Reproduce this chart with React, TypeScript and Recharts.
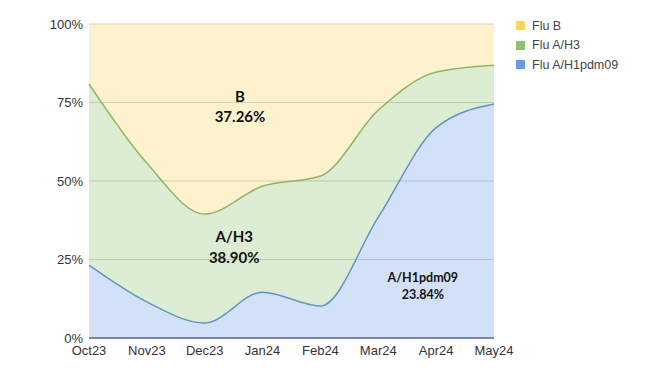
import React from "react";
import { AreaChart, Area, XAxis, YAxis, CartesianGrid, ReferenceDot } from "recharts";

const months = ["Oct23", "Nov23", "Dec23", "Jan24", "Feb24", "Mar24", "Apr24", "May24"];
const fluH1 = [23.2, 11.5, 4.8, 14.6, 10.2, 38.5, 67.0, 74.5];
const fluH3 = [57.7, 44.2, 34.7, 33.8, 41.4, 34.1, 17.7, 12.4];
const fluB = [19.1, 44.3, 60.5, 51.6, 48.4, 27.4, 15.3, 13.1];
const yTicks = [0, 25, 50, 75, 100];

const data = months.map((m, i) => ({ idx: i, month: m, h1: fluH1[i], h3: fluH3[i], b: fluB[i] }));

const legendItems = [
  { name: "Flu B", color: "#fbd45c" },
  { name: "Flu A/H3", color: "#8cc26e" },
  { name: "Flu A/H1pdm09", color: "#6a9be8" },
];

const annotations = [
  { x: 2.61, y: 73.6, lines: ["B", "37.26%"], size: 15 },
  { x: 2.51, y: 28.9, lines: ["A/H3", "38.90%"], size: 15 },
  { x: 5.77, y: 16.6, lines: ["A/H1pdm09", "23.84%"], size: 12.5 },
];

const makeLabel = (lines: string[], size: number) => (props: any) => {
  const { cx, cy } = props;
  const gap = size * 1.35;
  return (
    <text
      x={cx}
      y={cy}
      textAnchor="middle"
      fontFamily="Lato, 'Open Sans', sans-serif"
      fontWeight="bold"
      fontSize={size}
      fill="#111"
    >
      <tspan x={cx} dy={-gap / 2 + size * 0.35}>{lines[0]}</tspan>
      <tspan x={cx} dy={gap}>{lines[1]}</tspan>
    </text>
  );
};

export default function App() {
  return (
    <div style={{ position: "relative", width: 663, height: 370 }}>
      <AreaChart
        width={663}
        height={370}
        data={data}
        margin={{ top: 16, right: 177, bottom: 10, left: 0 }}
      >
        <CartesianGrid horizontal vertical={false} stroke="#cfcfcf" />
        <XAxis
          dataKey="idx"
          type="number"
          domain={[0, 7]}
          ticks={[0, 1, 2, 3, 4, 5, 6, 7]}
          tickFormatter={(v: number) => months[v]}
          height={30}
          tickSize={0}
          tickMargin={8}
          axisLine={{ stroke: "#5f6f8c", strokeWidth: 1.3 }}
          tick={{ fontFamily: "'Liberation Sans', Arial, sans-serif", fontSize: 13, fill: "#333" }}
          interval={0}
        />
        <YAxis
          width={81}
          domain={[0, 100]}
          ticks={yTicks}
          tickFormatter={(v: number) => `${v}%`}
          axisLine={false}
          tickLine={false}
          tickSize={0}
          tickMargin={6}
          tick={{ fontFamily: "'Liberation Sans', Arial, sans-serif", fontSize: 13, fill: "#333" }}
          allowDataOverflow
        />
        <Area
          type="monotone"
          dataKey="h1"
          name="Flu A/H1pdm09"
          stackId="1"
          stroke="#5b8bd6"
          strokeWidth={1.5}
          fill="#6a9be8"
          fillOpacity={0.3}
          isAnimationActive={false}
        />
        <Area
          type="monotone"
          dataKey="h3"
          name="Flu A/H3"
          stackId="1"
          stroke="#7fb062"
          strokeWidth={1.5}
          fill="#8cc26e"
          fillOpacity={0.3}
          isAnimationActive={false}
        />
        <Area
          type="monotone"
          dataKey="b"
          name="Flu B"
          stackId="1"
          stroke="none"
          fill="#fbd45c"
          fillOpacity={0.3}
          isAnimationActive={false}
        />
        {annotations.map((a) => (
          <ReferenceDot
            key={a.lines[0]}
            x={a.x}
            y={a.y}
            r={0}
            fill="none"
            stroke="none"
            shape={makeLabel(a.lines, a.size)}
          />
        ))}
      </AreaChart>
      <div
        style={{
          position: "absolute",
          left: 508,
          top: 8,
          fontFamily: "'Liberation Sans', Arial, sans-serif",
          fontSize: 12.5,
          color: "#444",
        }}
      >
        {legendItems.map((it) => (
          <div key={it.name} style={{ display: "flex", alignItems: "center", height: 19.5 }}>
            <div style={{ width: 9, height: 9, background: it.color, marginRight: 7 }} />
            <span>{it.name}</span>
          </div>
        ))}
      </div>
    </div>
  );
}
